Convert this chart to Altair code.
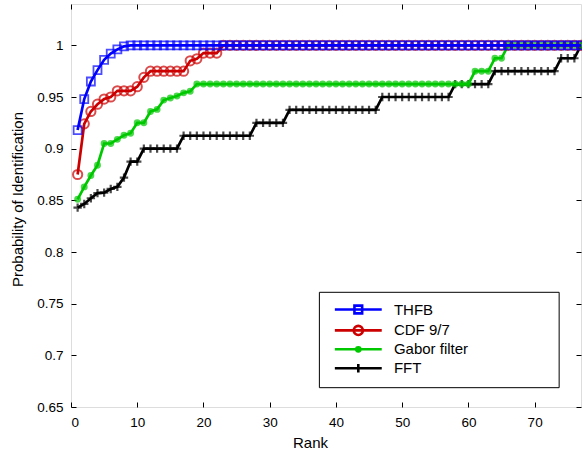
import altair as alt
import pandas as pd

ranks = list(range(1, 78))

thfb = [0.918, 0.948, 0.965, 0.976, 0.986, 0.992, 0.996, 0.999] + [1.0] * 69
cdf97 = ([0.875, 0.924, 0.936, 0.943, 0.948, 0.950, 0.956, 0.956, 0.956, 0.960, 0.969]
         + [0.975] * 6 + [0.985, 0.987] + [0.9925] * 3 + [1.0] * 55)
gabor = ([0.851, 0.863, 0.874, 0.884, 0.905, 0.905, 0.909, 0.913, 0.915, 0.925, 0.925,
          0.936, 0.938, 0.947, 0.949, 0.951, 0.954, 0.9555]
         + [0.9625] * 42 + [0.975] * 3 + [0.9875] * 2 + [1.0] * 12)
fft = ([0.843, 0.8465, 0.852, 0.857, 0.8575, 0.861, 0.863, 0.872, 0.8875, 0.8875]
       + [0.9] * 6 + [0.9125] * 11 + [0.925] * 5 + [0.9375] * 14 + [0.95] * 11
       + [0.9625] * 6 + [0.975] * 10 + [0.9875] * 3 + [1.0])

names = ["THFB", "CDF 9/7", "Gabor filter", "FFT"]
colors = ["#0000ff", "#cc0000", "#00c800", "#000000"]
series = {"THFB": thfb, "CDF 9/7": cdf97, "Gabor filter": gabor, "FFT": fft}

x_ticks = [0, 10, 20, 30, 40, 50, 60, 70]
y_ticks = [0.65, 0.7, 0.75, 0.8, 0.85, 0.9, 0.95, 1.0]

rows = []
for n in names:
    for r, v in zip(ranks, series[n]):
        rows.append({"rank": r, "prob": v, "method": n})
df = pd.DataFrame(rows)

# legend frame extent, in axis units
legend_frame = pd.DataFrame({"x": [37.5], "x2": [73.7], "y": [0.761], "y2": [0.6687]})

FONT = "Liberation Sans"
xscale = alt.Scale(domain=[0, 77], nice=False, zero=False)
yscale = alt.Scale(domain=[0.65, 1.04], nice=False, zero=False)

x_main = alt.X("rank:Q", scale=xscale, axis=alt.Axis(
    orient="bottom", values=x_ticks, offset=-5, tickSize=5, domain=False, grid=False,
    labelPadding=8, labelFontSize=13.5, labelFont=FONT, labelColor="black",
    tickColor="black", title="Rank", titleFont=FONT, titleFontSize=15,
    titleFontWeight="normal", titleColor="black", titleX=239, titleY=45,
    titleBaseline="alphabetic"))
y_main = alt.Y("prob:Q", scale=yscale, axis=alt.Axis(
    orient="left", values=y_ticks, offset=-5, tickSize=5, domain=False, grid=False,
    format=".2~f", labelPadding=8, labelFontSize=13.5, labelFont=FONT,
    labelColor="black", tickColor="black", title="Probability of Identification",
    titleFont=FONT, titleFontSize=15, titleFontWeight="normal", titleColor="black",
    titleX=-59, titleY=195, titleBaseline="middle"))
x_top = alt.X("rank:Q", scale=xscale, axis=alt.Axis(
    orient="top", values=x_ticks, offset=-5, tickSize=5, domain=False, grid=False,
    labels=False, tickColor="black", title=None))
y_right = alt.Y("prob:Q", scale=yscale, axis=alt.Axis(
    orient="right", values=y_ticks, offset=-5, tickSize=5, domain=False, grid=False,
    labels=False, tickColor="black", title=None))
x_plain = alt.X("rank:Q", scale=xscale, axis=None)
y_plain = alt.Y("prob:Q", scale=yscale, axis=None)

markers = {
    "THFB": dict(shape="square", filled=False, size=64, strokeWidth=1.8),
    "CDF 9/7": dict(shape="circle", filled=False, size=85, strokeWidth=2),
    "Gabor filter": dict(shape="circle", filled=True, size=48, strokeWidth=0),
    "FFT": dict(shape="M-1,0H1M0,-1V1", filled=False, size=70, strokeWidth=2.2),
}

base = alt.Chart(df)
layers = []
first = True
for n, c in reversed(list(zip(names, colors))):
    sub = base.transform_filter(alt.datum.method == n)
    xe = x_main if first else x_plain
    ye = y_main if first else y_plain
    first = False
    layers.append(sub.mark_line(color=c, strokeWidth=2.7).encode(x=xe, y=ye))
    layers.append(sub.mark_point(color=c, **markers[n]).encode(x=x_plain, y=y_plain))

# top / right tick axes
ticks_layer = base.mark_point(opacity=0).encode(x=x_top, y=y_right)

# legend frame
frame_layer = alt.Chart(legend_frame).mark_rect(
    fill="white", stroke="black", strokeWidth=1
).encode(
    x=alt.X("x:Q", scale=xscale, axis=None), x2="x2:Q",
    y=alt.Y("y:Q", scale=yscale, axis=None), y2="y2:Q",
)

# legend layer: its marks are hidden, it only defines the legend entries
shapes = [
    "M-6.7,0H6.7M-1.1,-1.1H1.1V1.1H-1.1Z",
    "M-6.7,0H6.7M1.3,0A1.3,1.3,0,1,1,-1.3,0A1.3,1.3,0,1,1,1.3,0",
    "M-6.7,0H6.7M0.6,0A0.6,0.6,0,1,1,-0.6,0A0.6,0.6,0,1,1,0.6,0"
    "M0.25,0A0.25,0.25,0,1,1,-0.25,0A0.25,0.25,0,1,1,0.25,0",
    "M-6.7,0H6.7M-1.2,0H1.2M0,-1.2V1.2",
]
leg = alt.Legend(
    title=None, orient="none", legendX=248, legendY=289, padding=9,
    labelFont=FONT, labelFontSize=15, labelColor="black", symbolSize=49,
    symbolStrokeWidth=2.6, symbolOffset=22.8, labelOffset=28.1, rowPadding=0.9,
    symbolOpacity=1, symbolFillColor="transparent",
)
legend_layer = base.mark_point(filled=False, size=1, strokeWidth=0).encode(
    x=x_plain,
    y=y_plain,
    color=alt.Color("method:N", scale=alt.Scale(domain=names, range=colors), legend=leg),
    shape=alt.Shape("method:N", scale=alt.Scale(domain=names, range=shapes), legend=leg),
)

chart = alt.layer(*layers, ticks_layer, frame_layer, legend_layer).resolve_axis(
    x="independent", y="independent"
).properties(
    width=510, height=403,
    padding={"left": 71, "top": 4, "right": 1, "bottom": 44},
    autosize=alt.AutoSizeParams(type="none"),
).configure_view(stroke="black", strokeWidth=1).configure(background="white")

chart.save("out.html", embed_options={"renderer": "svg", "actions": False})
